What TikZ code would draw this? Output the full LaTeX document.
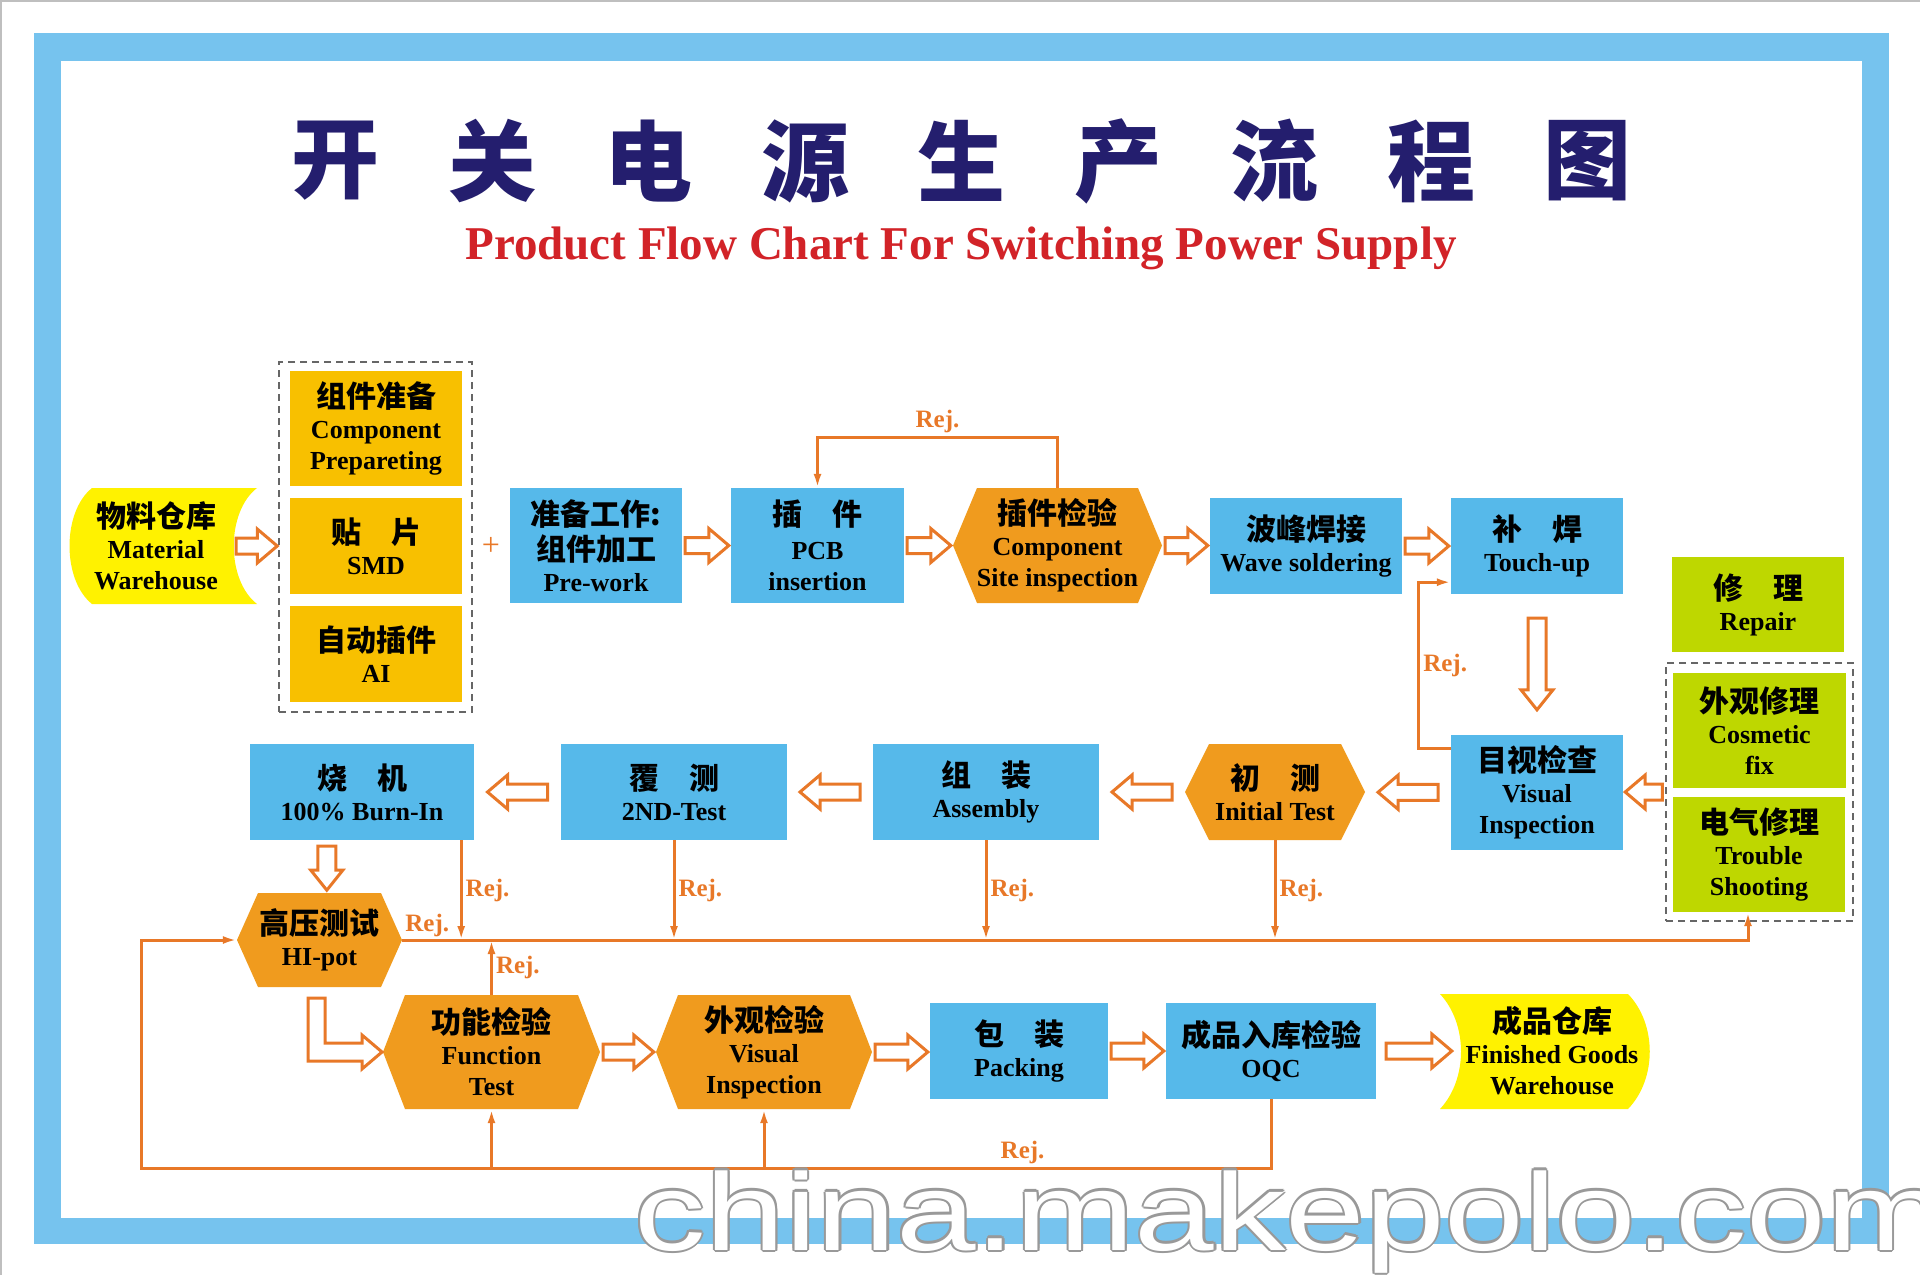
\documentclass[tikz,border=0pt]{standalone}
\usepackage{fontspec}
\usepackage{graphicx}
\setmainfont{Liberation Serif}
\newfontfamily\cjk{Noto Sans CJK SC}
\newfontfamily\wmfont{Liberation Sans}
\usetikzlibrary{calc,arrows.meta}

\definecolor{framecol}{HTML}{76C3EE}
\definecolor{boxblue}{HTML}{56B9EA}
\definecolor{boxgold}{HTML}{F8C000}
\definecolor{boxyellow}{HTML}{FFF200}
\definecolor{boxgreen}{HTML}{BED700}
\definecolor{hexorange}{HTML}{F09B1E}
\definecolor{lineorange}{HTML}{E87828}
\definecolor{titlenavy}{HTML}{241E6E}
\definecolor{titlered}{HTML}{D22328}

\newcommand\zh[1]{{\cjk\bfseries\fontsize{30}{31}\selectfont #1}}
\newcommand\wmtext{\scalebox{1.3}[1]{china.makepolo.com}}
\newcommand\hexfill[5]{\fill[hexorange] (#1-#3/2,#2) -- (#1-#3/2+#5,#2-#4/2) -- (#1+#3/2-#5,#2-#4/2) -- (#1+#3/2,#2) -- (#1+#3/2-#5,#2+#4/2) -- (#1-#3/2+#5,#2+#4/2) -- cycle;}
\newcommand\blockright[2]{\draw[blockarr] let \p1=#1, \p2=#2 in (\x1,\y1+8pt) -- (\x2-20pt,\y1+8pt) -- (\x2-20pt,\y1+17pt) -- (\x2,\y1) -- (\x2-20pt,\y1-17pt) -- (\x2-20pt,\y1-8pt) -- (\x1,\y1-8pt) -- cycle;}
\newcommand\blockleft[2]{\draw[blockarr] let \p1=#1, \p2=#2 in (\x1,\y1+8pt) -- (\x2+20pt,\y1+8pt) -- (\x2+20pt,\y1+17pt) -- (\x2,\y1) -- (\x2+20pt,\y1-17pt) -- (\x2+20pt,\y1-8pt) -- (\x1,\y1-8pt) -- cycle;}
\newcommand\blockdown[2]{\draw[blockarr] let \p1=#1, \p2=#2 in (\x1-9pt,\y1) -- (\x1-9pt,\y2+20pt) -- (\x1-16pt,\y2+20pt) -- (\x1,\y2) -- (\x1+16pt,\y2+20pt) -- (\x1+9pt,\y2+20pt) -- (\x1+9pt,\y1) -- cycle;}

\tikzset{
  flowbox/.style={inner sep=0pt, align=center, font=\bfseries\fontsize{26}{31}\selectfont},
  bluebox/.style={flowbox, fill=boxblue},
  goldbox/.style={flowbox, fill=boxgold},
  greenbox/.style={flowbox, fill=boxgreen},
  dashbox/.style={draw=black!60, line width=1.5pt, dash pattern=on 7pt off 5pt, inner sep=0pt},
  blockarr/.style={draw=lineorange, fill=white, line width=3pt},
  rejline/.style={draw=lineorange, line width=3pt, -{Latex[length=14pt,width=8pt]}},
  rejtext/.style={text=lineorange, inner sep=3pt, font=\bfseries\fontsize{25}{25}\selectfont},
  titlechar/.style={text=titlenavy, inner sep=0pt, font=\cjk\bfseries\fontsize{88}{88}\selectfont},
  subtitle/.style={text=titlered, inner sep=0pt, anchor=base, font=\bfseries\fontsize{47}{47}\selectfont},
  wmark/.style={anchor=base west, inner sep=0pt, font=\wmfont\fontsize{110}{110}\selectfont},
}

\begin{document}
\begin{tikzpicture}[x=1pt,y=-1pt]
  \useasboundingbox (0,0) rectangle (1920,1275);
  \draw[black!25, line width=2pt] (0,1) -- (1920,1);
  \draw[black!25, line width=2pt] (1,0) -- (1,1275);
  \fill[framecol] (34,33) rectangle (1889,1244);
  \fill[white] (61,61) rectangle (1862,1218);

  \foreach \c [count=\i from 0] in {开,关,电,源,生,产,流,程,图}
    \node[titlechar] (title\i) at (335.6+156.5*\i,161) {\c};
  \node[subtitle] (subtitle) at (961,259) {Product Flow Chart For Switching Power Supply};

  \fill[boxyellow] (92,488) -- (257,488) .. controls (226,512) and (226,580) .. (257,604) -- (92,604) .. controls (62,580) and (62,512) .. (92,488) -- cycle;
  \node[flowbox, minimum width=154, minimum height=116] (mw) at (156,546) {\zh{物料仓库}\\Material\\Warehouse};

  \node[dashbox, minimum width=193, minimum height=350] (grp) at (375.5,537) {};
  \node[goldbox, minimum width=172, minimum height=115] (cp) at (376,428.5) {\zh{组件准备}\\Component\\Prepareting};
  \node[goldbox, minimum width=172, minimum height=96] (smd) at (376,546) {\zh{贴　片}\\SMD};
  \node[goldbox, minimum width=172, minimum height=96] (ai) at (376,654) {\zh{自动插件}\\AI};
  \node[text=lineorange, inner sep=0pt, font=\fontsize{32}{32}\selectfont] (plus) at (491,546) {+};

  \node[bluebox, minimum width=172, minimum height=115] (prework) at (596,545.5) {\zh{准备工作:}\\[4pt]\zh{组件加工}\\Pre-work};
  \node[bluebox, minimum width=173, minimum height=115] (pcb) at (817.5,545.5) {\zh{插　件}\\[3pt]PCB\\insertion};
  \hexfill{1057.5}{545.5}{209}{115}{24}
  \node[flowbox, minimum width=209, minimum height=115] (csi) at (1057.5,545.5) {\zh{插件检验}\\Component\\Site inspection};
  \node[bluebox, minimum width=192, minimum height=96] (ws) at (1306,546) {\zh{波峰焊接}\\Wave soldering};
  \node[bluebox, minimum width=172, minimum height=96] (tu) at (1537,546) {\zh{补　焊}\\Touch-up};

  \node[greenbox, minimum width=172, minimum height=95] (repair) at (1758,604.5) {\zh{修　理}\\Repair};
  \node[dashbox, minimum width=187, minimum height=258] (fixgrp) at (1759.5,792) {};
  \node[greenbox, minimum width=173, minimum height=115] (cosm) at (1759.5,730.5) {\zh{外观修理}\\Cosmetic\\fix};
  \node[greenbox, minimum width=172, minimum height=115] (ts) at (1759,854.5) {\zh{电气修理}\\Trouble\\Shooting};

  \node[bluebox, minimum width=172, minimum height=115] (vi) at (1537,792.5) {\zh{目视检查}\\Visual\\Inspection};
  \hexfill{1275}{792}{180}{96}{24}
  \node[flowbox, minimum width=180, minimum height=96] (initt) at (1275,792) {\zh{初　测}\\Initial Test};
  \node[bluebox, minimum width=226, minimum height=96] (asm) at (986,792) {\zh{组　装}\\Assembly};
  \node[bluebox, minimum width=226, minimum height=96] (twond) at (674,792) {\zh{覆　测}\\2ND-Test};
  \node[bluebox, minimum width=224, minimum height=96] (burn) at (362,792) {\zh{烧　机}\\100\% Burn-In};
  \hexfill{319.5}{940}{165}{94}{21}
  \node[flowbox, minimum width=165, minimum height=94] (hipot) at (319.5,940) {\zh{高压测试}\\HI-pot};

  \hexfill{491.5}{1052}{217}{114}{22}
  \node[flowbox, minimum width=217, minimum height=114] (ft) at (491.5,1052) {\zh{功能检验}\\Function\\Test};
  \hexfill{764}{1052}{216}{114}{22}
  \node[flowbox, minimum width=216, minimum height=114] (vis) at (764,1052) {\zh{外观检验}\\Visual\\Inspection};
  \node[bluebox, minimum width=178, minimum height=96] (pack) at (1019,1051) {\zh{包　装}\\Packing};
  \node[bluebox, minimum width=210, minimum height=96] (oqc) at (1271,1051) {\zh{成品入库检验}\\OQC};
  \fill[boxyellow] (1440,994) -- (1628,994) .. controls (1657,1024) and (1657,1079) .. (1628,1109) -- (1440,1109) .. controls (1468,1079) and (1468,1024) .. (1440,994) -- cycle;
  \node[flowbox, minimum width=182, minimum height=115] (fgw) at (1552,1051) {\zh{成品仓库}\\Finished Goods\\Warehouse};

  \blockright{($(mw.east)+(3,0)$)}{($(grp.west)+(-1,0)$)}
  \blockright{($(prework.east)+(3,0)$)}{($(pcb.west)+(-2,0)$)}
  \blockright{($(pcb.east)+(3,0)$)}{($(csi.west)+(-2,0)$)}
  \blockright{($(csi.east)+(3,0)$)}{($(ws.west)+(-2,0)$)}
  \blockright{($(ws.east)+(3,0)$)}{($(tu.west)+(-2,0)$)}
  \blockdown{($(tu.south)+(0,24)$)}{($(vi.north)+(0,-25)$)}
  \blockleft{($(fixgrp.west)+(-3,0)$)}{($(vi.east)+(2,0)$)}
  \blockleft{($(vi.west)!0.5!(initt.east)+(30,0)$)}{($(vi.west)!0.5!(initt.east)+(-30,0)$)}
  \blockleft{($(initt.west)!0.5!(asm.east)+(30,0)$)}{($(initt.west)!0.5!(asm.east)+(-30,0)$)}
  \blockleft{($(asm.west)!0.5!(twond.east)+(30,0)$)}{($(asm.west)!0.5!(twond.east)+(-30,0)$)}
  \blockleft{($(twond.west)!0.5!(burn.east)+(30,0)$)}{($(twond.west)!0.5!(burn.east)+(-30,0)$)}
  \blockdown{($(burn.south west)+(77,6)$)}{($(burn.south west)+(77,50)$)}
  \draw[blockarr] (308,998) -- (325,998) -- (325,1043) -- (362,1043) -- (362,1035) -- (382,1052) -- (362,1069) -- (362,1061) -- (308,1061) -- cycle;
  \blockright{($(ft.east)+(3,0)$)}{($(vis.west)+(-2,0)$)}
  \blockright{($(vis.east)+(3,0)$)}{($(pack.west)+(-2,0)$)}
  \blockright{($(pack.east)+(3,0)$)}{($(oqc.west)+(-2,0)$)}
  \blockright{($(oqc.east)+(10,0)$)}{($(fgw.west)+(-9,0)$)}

  \draw[rejline] (csi.north) -- ++(0,-50) -| node[rejtext, pos=0.25, above] {Rej.} (pcb.north);
  \draw[rejline] ($(vi.north west)+(0,14)$) -- ++(-32,0) |- node[rejtext, pos=0.25, right] {Rej.} ($(tu.south west)+(0,-12)$);
  \draw[rejline] (hipot.east) -| ($(ts.south)+(-11,0)$);
  \node[rejtext, anchor=south west] (hipotrej) at (hipot.east) {Rej.};
  \coordinate (burnrej) at ($(burn.south east)+(-13,0)$);
  \draw[rejline] (burnrej) -- node[rejtext, right] {Rej.} (burnrej |- hipot.east);
  \draw[rejline] (twond.south) -- node[rejtext, right] {Rej.} (twond.south |- hipot.east);
  \draw[rejline] (asm.south) -- node[rejtext, right] {Rej.} (asm.south |- hipot.east);
  \draw[rejline] (initt.south) -- node[rejtext, right] {Rej.} (initt.south |- hipot.east);
  \draw[rejline] (ft.north) -- node[rejtext, right] {Rej.} (ft.north |- hipot.east);
  \draw[rejline] (oqc.south) -- ++(0,69) coordinate (botr) -| node[rejtext, pos=0.11, above] {Rej.} ($(hipot.west)+(-95,0)$) -- (hipot.west);
  \draw[rejline] (ft.south |- botr) -- (ft.south);
  \draw[rejline] (vis.south |- botr) -- (vis.south);

  \foreach \a in {0,45,...,315}
    \node[wmark, text=black!40] at ($(634,1250)+(\a:2.2)$) {\wmtext};
  \node[wmark, text=white] (watermark) at (634,1250) {\wmtext};
\end{tikzpicture}
\end{document}
